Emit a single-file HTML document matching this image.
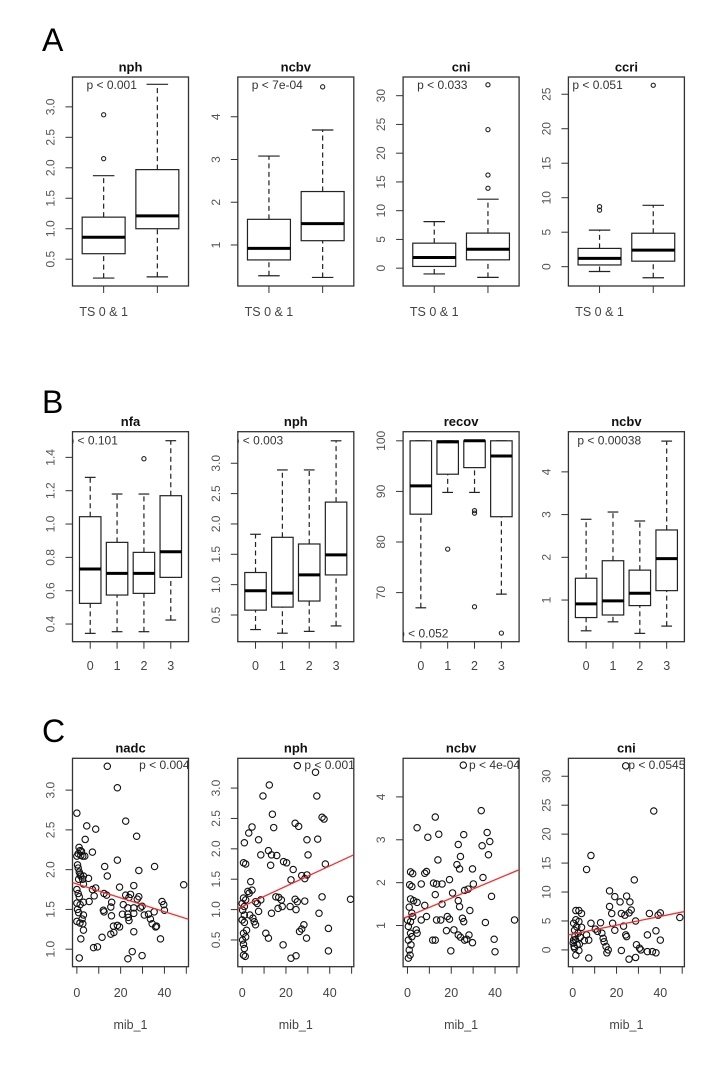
<!DOCTYPE html>
<html><head><meta charset="utf-8">
<style>
html,body{margin:0;padding:0;background:#fff;}
svg{display:block;font-family:"Liberation Sans",Arial,sans-serif;}
</style></head>
<body>
<svg id="fig" width="721" height="1076" viewBox="0 0 721 1076" xmlns="http://www.w3.org/2000/svg">
<rect x="0" y="0" width="721" height="1076" fill="#fff"/>
<text x="42" y="51" font-size="32">A</text>
<text x="42" y="413" font-size="32">B</text>
<text x="42" y="742" font-size="32">C</text>
</svg>
<script>
// ---------- Row A data ----------
const aTitles = ['nph','ncbv','cni','ccri'];
const aPText = ['p < 0.001','p < 7e-04','p < 0.033','p < 0.051'];
const aYlim = [[0.06,3.49],[0.04,4.93],[-3.1,33.25],[-2.8,27.5]];
const aTicks = [[0.5,1,1.5,2,2.5,3],[1,2,3,4],[0,5,10,15,20,25,30],[0,5,10,15,20,25]];
const aTickLabels = [['0.5','1.0','1.5','2.0','2.5','3.0'],['1','2','3','4'],['0','5','10','15','20','25','30'],['0','5','10','15','20','25']];
// [lowWhisker, q1, median, q3, highWhisker]
const aStats = [
  [[0.19,0.59,0.86,1.19,1.87],[0.21,1.0,1.21,1.97,3.37]],
  [[0.28,0.65,0.92,1.6,3.08],[0.24,1.1,1.5,2.25,3.69]],
  [[-1.0,0.3,1.85,4.35,8.1],[-1.6,1.45,3.3,6.1,12]],
  [[-0.7,0.25,1.2,2.65,5.3],[-1.6,0.8,2.4,4.85,8.9]]
];
const aOutliers = [
  [[2.87,2.15],[]],
  [[],[4.7]],
  [[],[13.9,16.2,24.1,31.9]],
  [[8.2,8.7],[26.3]]
];
const aXLabels = ['TS 0 & 1',''];

// ---------- Row B data ----------
const bTitles = ['nfa','nph','recov','ncbv'];
const bPText = ['p < 0.101','p < 0.003','p < 0.052','p < 0.00038'];
const bYlim = [[0.294,1.554],[0.06,3.52],[60.3,101.8],[0.025,4.94]];
const bTicks = [[0.4,0.6,0.8,1.0,1.2,1.4],[0.5,1,1.5,2,2.5,3],[70,80,90,100],[1,2,3,4]];
const bTickLabels = [['0.4','0.6','0.8','1.0','1.2','1.4'],['0.5','1.0','1.5','2.0','2.5','3.0'],['70','80','90','100'],['1','2','3','4']];
const bStats = [
  [[0.344,0.524,0.73,1.044,1.28],[0.354,0.574,0.704,0.89,1.18],[0.354,0.584,0.704,0.83,1.18],[0.424,0.68,0.834,1.17,1.5]],
  [[0.26,0.58,0.9,1.2,1.83],[0.2,0.63,0.86,1.78,2.89],[0.23,0.73,1.16,1.67,2.89],[0.32,1.16,1.49,2.36,3.37]],
  [[67.0,85.5,91.1,100,100],[89.8,93.4,99.8,100,100],[89.8,94.7,100,100,100],[69.7,85,97,100,100]],
  [[0.28,0.59,0.91,1.51,2.89],[0.49,0.65,0.98,1.92,3.06],[0.22,0.87,1.16,1.7,2.85],[0.39,1.22,1.97,2.64,4.72]]
];
const bOutliers = [
  [[],[],[1.392],[]],
  [[],[],[],[]],
  [[],[78.6],[86.2,85.7,67.2],[62]],
  [[],[],[],[]]
];
const bXLabels = ['0','1','2','3'];

// ---------- Row C data ----------
const cTitles = ['nadc','nph','ncbv','cni'];
const cPText = ['p < 0.004','p < 0.001','p < 4e-04','p < 0.0545'];
const cXlim = [-2,51];
const cXTicks = [0,10,20,30,40,50];
const cXTickLabels = ['0','','20','','40',''];
const cYlim = [[0.78,3.4],[0.06,3.49],[0.04,4.9],[-2.9,33.1]];
const cYTicks = [[1,1.5,2,2.5,3],[0.5,1,1.5,2,2.5,3],[1,2,3,4],[0,5,10,15,20,25,30]];
const cYTickLabels = [['1.0','1.5','2.0','2.5','3.0'],['0.5','1.0','1.5','2.0','2.5','3.0'],['1','2','3','4'],['0','5','10','15','20','25','30']];
const cIntercepts = [1.82,1.05,1.21,2.75];
const cSlopes = [-0.0087,0.0167,0.0214,0.076];
const nadcPts = [[13.9,3.30],[18.5,3.03],[0,2.71],[22.3,2.61],[4.5,2.55],[8.6,2.51],[27.3,2.42],[3.8,2.38],
[1,2.28],[1.5,2.24],[2.1,2.23],[0.6,2.2],[1.8,2.18],[0,2.17],[2.7,2.17],[3.6,2.17],[7.1,2.22],[18.5,2.12],
[0.3,2.06],[0.6,2.02],[1.1,1.97],[1.5,1.94],[1.8,1.92],[3,1.92],[0.8,1.88],[2.6,1.88],
[12.7,2.04],[35.5,2.04],[13.9,1.92],[5.3,1.89],[28.3,1.99],[48.8,1.81],[19.5,1.78],[26,1.8],
[7.1,1.75],[8.6,1.77],[3,1.82],[0,1.75],[0.6,1.7],[1.1,1.66],[0,1.58],[1.5,1.56],[0.3,1.5],[0.8,1.46],[0,1.35],[1.4,1.33],
[7.9,1.67],[12.4,1.70],[13.6,1.68],[22.3,1.68],[24.5,1.69],[28.3,1.66],[23.8,1.65],[27.6,1.63],
[5.6,1.6],[3,1.59],[15.9,1.59],[15.5,1.53],[29.8,1.54],[21.2,1.56],[23.3,1.52],[26,1.52],[29,1.52],
[38.9,1.6],[39.7,1.56],[40,1.49],[35.3,1.47],[32.7,1.44],[30.8,1.43],[26,1.45],[23.3,1.44],[20.8,1.44],
[12.1,1.49],[12.4,1.47],[15.8,1.42],[23.5,1.40],[23.8,1.36],[18.5,1.3],[16.7,1.29],[16.9,1.21],[19.5,1.28],[26,1.22],
[33.6,1.38],[34.4,1.32],[36.4,1.29],[36,1.28],[3,1.43],[2.4,1.38],[2.7,1.32],[3,1.24],
[1.8,1.13],[38.2,1.13],[9.4,1.03],[7.6,1.02],[11.5,1.15],[15.5,1.19],[1.1,0.89],[25.3,0.97],[29.8,0.92],[23.3,0.88]];
const nphPts = [[25.2,3.37],[33.5,3.26],[12.4,3.05],[9.5,2.87],[34.1,2.87],[13.8,2.57],[24.2,2.42],[25.8,2.37],[36.5,2.52],[37.4,2.49],
[4.5,2.36],[3.0,2.26],[14.4,2.35],[1.0,2.10],[7.5,2.15],[29.6,2.15],[34.5,2.16],[12.0,1.97],[13.4,1.90],[15.8,1.89],[8.5,1.90],[30.1,1.90],
[0.6,1.77],[1.6,1.75],[18.9,1.79],[20.3,1.77],[13.0,1.73],[23.3,1.66],[38.0,1.75],[3.9,1.46],[22.3,1.49],[27.2,1.56],[28.6,1.51],[29.6,1.57],
[2.6,1.30],[3.2,1.27],[4.5,1.32],[15.4,1.21],[16.7,1.20],[17.9,1.16],[0.6,1.19],[1.6,1.16],[0,1.10],[1.0,1.05],[0.2,0.99],[1.0,0.91],[0,0.83],
[36.5,1.21],[8.5,1.16],[6.1,1.13],[6.9,1.10],[24.2,1.17],[25.2,1.13],[28.6,1.14],[49.5,1.17],[18.3,1.05],[21.9,1.05],[13.4,0.94],[16.4,1.02],
[7.5,0.97],[24.6,1.00],[35.1,0.94],[1.0,0.79],[2.0,0.66],[0.6,0.61],[1.6,0.55],[0.2,0.50],[0.6,0.43],[1.0,0.36],[0.6,0.25],[1.4,0.23],
[10.8,0.61],[12.0,0.53],[5.5,0.80],[4.9,0.86],[3.5,0.91],[26.2,0.64],[27.2,0.68],[28.2,0.75],[29.4,0.53],[39.4,0.69],[6.1,0.75],[18.7,0.42],
[22.3,0.20],[24.6,0.24],[39.4,0.32]];
const ncbvPts = [[25.5,4.74],[33.7,3.68],[12.7,3.53],[4.4,3.28],[25.7,3.12],[14.3,3.13],[9.3,3.06],[36.4,3.17],[37.6,2.96],[34.1,2.86],
[23.2,2.89],[37.0,2.65],[13.9,2.53],[24.2,2.61],[1.4,2.25],[2.4,2.21],[1.0,1.95],[2.0,1.91],[7.9,2.22],[8.7,2.26],[22.6,2.42],[23.8,2.32],
[29.7,2.32],[34.5,2.12],[11.9,1.99],[13.3,1.97],[6.3,1.97],[15.8,1.97],[19.2,2.07],[30.1,1.97],[27.7,1.85],[26.1,1.82],[20.6,1.76],[12.7,1.72],
[23.2,1.58],[15.8,1.50],[7.9,1.47],[4.4,1.54],[1.4,1.62],[2.8,1.58],[38.4,1.68],[8.7,1.21],[6.3,1.13],[13.3,1.13],[15.2,1.13],[28.5,1.35],
[35.6,1.07],[48.9,1.13],[39.6,0.68],[19.8,0.41],[40.0,0.39],[0.8,1.43],[2.0,1.29],[2.4,1.21],[0,1.13],[1.4,1.09],[0.4,0.98],[18.2,1.21],
[19.2,1.15],[25.1,1.17],[25.7,1.09],[23.8,1.44],[4.0,0.90],[4.4,0.82],[17.8,0.88],[21.2,0.90],[11.5,0.66],[12.7,0.66],[23.2,0.78],[24.2,0.73],
[26.1,0.66],[28.1,0.78],[29.7,0.60],[27.1,0.68],[1.4,0.82],[2.0,0.74],[0.4,0.66],[1.6,0.55],[0.8,0.43],[1.2,0.31],[0.4,0.24]];
const cniPts = [[24.2,31.8],[37.0,24.0],[8.3,16.3],[6.3,13.9],[28.1,12.1],[16.8,10.2],[19.2,9.2],[21.6,8.3],[24.6,9.3],[26.1,8.3],
[16.8,7.5],[17.8,6.3],[35,6.3],[39,6.0],[40,6.4],[48.9,5.6],[28.7,5.0],[8.3,4.6],[12.7,4.7],[7.3,-1.4],[22.2,-0.1],[25.7,-1.6],[28.7,-1.3],
[34.1,2.6],[38,3.3],[40,1.7],[22.2,6.3],[23.8,6.0],[26.7,6.9],[25.7,6.4],[18.2,4.6],[19.2,3.4],[23.2,4.1],[24.2,2.6],[24.6,2.3],
[1.4,6.8],[2.8,6.8],[4.0,6.3],[1.4,5.2],[2.8,4.9],[0.4,4.6],[1.8,4.0],[4.0,3.9],[0.8,3.4],[2.4,2.9],[3.4,2.2],[0.4,1.7],[2.0,0.9],
[0.8,0.3],[2.8,-0.1],[1.4,-0.9],[10.3,3.6],[11.3,3.2],[13.3,2.9],[13.9,2.0],[6.3,2.6],[7.3,1.7],[5.3,1.6],[14.3,1.4],[15.2,0.6],
[16.2,0],[15.6,-0.5],[29.1,0.9],[30.5,0.3],[31.1,0],[34.1,-0.3],[36.4,-0.3],[38,-0.5],[0.2,1.2],[1.0,2.4],[0.6,0.6],[3.0,1.0],[1.2,1.8]];
const cPoints = [nadcPts, nphPts, ncbvPts, cniPts];

// ---------- layout ----------
const svg = document.getElementById('fig');
const NS = 'http://www.w3.org/2000/svg';
const LEFTS = [72.5, 237.8, 403.1, 568.4];
const PW = 116;
function mk(tag, attrs, parent){
  const e = document.createElementNS(NS, tag);
  for (const k in attrs) e.setAttribute(k, attrs[k]);
  (parent||svg).appendChild(e);
  return e;
}
function scale(d0,d1,r0,r1){ return v => r0 + (v-d0)/(d1-d0)*(r1-r0); }
let clipId = 0;

function frame(g, left, top, bot, title, titleY){
  const t = mk('text',{x:left+PW/2,y:titleY,'text-anchor':'middle','dominant-baseline':'central','font-size':13,'font-weight':'bold',fill:'#111'},g);
  t.textContent = title;
  
  
  const r = mk('rect',{x:left,y:top,width:PW,height:bot-top,fill:'none',stroke:'#333','stroke-width':1.3},g);
  
  
}
function yAxis(g, left, ys, ticks, labels){
  ticks.forEach((v,i)=>{
    const y = ys(v);
    const tk = mk('line',{x1:left-7,x2:left,y1:y,y2:y,stroke:'#333','stroke-width':1},g);
    
    
    const tl = mk('text',{x:0,y:0,transform:`translate(${left-22},${y}) rotate(-90)`,'text-anchor':'middle','dominant-baseline':'central','font-size':12,fill:'#555'},g);
    tl.textContent = labels[i];
    
    
  });
}
function clipFor(g, left, top, bot){
  const id = 'clip'+(clipId++);
  const cp = mk('clipPath',{id:id},g);
  mk('rect',{x:left,y:top,width:PW,height:bot-top},cp);
  return id;
}
function boxRow(rowName, titles, ptexts, ylims, ticks, tlabels, stats, outl, xlabels, top, bot, titleY, pPos, xlabY){
  titles.forEach((title,pi)=>{
    const left = LEFTS[pi];
    const g = mk('g',{});
    
    
    frame(g,left,top,bot,title,titleY);
    const ys = scale(ylims[pi][0], ylims[pi][1], bot, top);
    yAxis(g,left,ys,ticks[pi],tlabels[pi]);
    const n = stats[pi].length;
    const xs = scale(0.5-0.04*n, n+0.5+0.04*n, left, left+PW);
    const hw = (xs(1.4)-xs(1));
    stats[pi].forEach((s,gi)=>{
      const cx = xs(gi+1);
      const bg = mk('g',{},g);
      
      
      mk('line',{x1:cx,x2:cx,y1:ys(s[0]),y2:ys(s[1]),stroke:'#222','stroke-width':1.2,'stroke-dasharray':'5,3.5'},bg);
      mk('line',{x1:cx,x2:cx,y1:ys(s[3]),y2:ys(s[4]),stroke:'#222','stroke-width':1.2,'stroke-dasharray':'5,3.5'},bg);
      mk('line',{x1:cx-hw/2,x2:cx+hw/2,y1:ys(s[0]),y2:ys(s[0]),stroke:'#222','stroke-width':1.2},bg);
      mk('line',{x1:cx-hw/2,x2:cx+hw/2,y1:ys(s[4]),y2:ys(s[4]),stroke:'#222','stroke-width':1.2},bg);
      mk('rect',{x:cx-hw,y:ys(s[3]),width:2*hw,height:Math.max(0.5,ys(s[1])-ys(s[3])),fill:'#fff',stroke:'#222','stroke-width':1.2},bg);
      mk('line',{x1:cx-hw,x2:cx+hw,y1:ys(s[2]),y2:ys(s[2]),stroke:'#000','stroke-width':3},bg);
      outl[pi][gi].forEach(v=>{
        const c = mk('circle',{cx:cx,cy:ys(v),r:2.1,fill:'none',stroke:'#222','stroke-width':1.1},bg);
        
        
      });
      const xt = mk('line',{x1:cx,x2:cx,y1:bot,y2:bot+7,stroke:'#333','stroke-width':1},g);
      
      
      if (xlabels[gi]) {
        const xl = mk('text',{x:cx,y:xlabY,'text-anchor':'middle','dominant-baseline':'central','font-size':12.5,fill:'#444'},g);
        xl.textContent = xlabels[gi];
        
        
      }
    });
    const id = clipFor(g,left,top,bot);
    const p = pPos[pi];
    const pt = mk('text',{x:left+p[0],y:p[1],'dominant-baseline':'central','font-size':12,fill:'#333','clip-path':`url(#${id})`},g);
    pt.textContent = ptexts[pi];
    
    
  });
}
boxRow('a', aTitles, aPText, aYlim, aTicks, aTickLabels, aStats, aOutliers, aXLabels, 77, 286, 67,
  [[14,85],[14,85],[14,85],[4,85]], 312);
boxRow('b', bTitles, bPText, bYlim, bTicks, bTickLabels, bStats, bOutliers, bXLabels, 431.7, 641.7, 421.7,
  [[-5,440.7],[-5,440.7],[-5,633.3],[9,440.7]], 666);

// scatter row
cTitles.forEach((title,pi)=>{
  const left = LEFTS[pi], top = 758.3, bot = 966.7;
  const g = mk('g',{});
  
  
  frame(g,left,top,bot,title,748);
  const ys = scale(cYlim[pi][0], cYlim[pi][1], bot, top);
  const xs = scale(cXlim[0], cXlim[1], left, left+PW);
  yAxis(g,left,ys,cYTicks[pi],cYTickLabels[pi]);
  cXTicks.forEach((v,i)=>{
    const xt = mk('line',{x1:xs(v),x2:xs(v),y1:bot,y2:bot+7,stroke:'#333','stroke-width':1},g);
    
    
    if (cXTickLabels[i]) {
      const xl = mk('text',{x:xs(v),y:993,'text-anchor':'middle','dominant-baseline':'central','font-size':12.5,fill:'#444'},g);
      xl.textContent = cXTickLabels[i];
      
      
    }
  });
  const xt = mk('text',{x:left+PW/2,y:1025,'text-anchor':'middle','dominant-baseline':'central','font-size':12.5,fill:'#444'},g);
  xt.textContent = 'mib_1';
  
  
  const id = clipFor(g,left,top,bot);
  const pg = mk('g',{'clip-path':`url(#${id})`},g);
  cPoints[pi].forEach(pt=>{
    const c = mk('circle',{cx:xs(pt[0]),cy:ys(pt[1]),r:3.2,fill:'none',stroke:'#111','stroke-width':1.1},pg);
    
    
  });
  const ln = mk('line',{x1:xs(cXlim[0]),y1:ys(cIntercepts[pi]+cSlopes[pi]*cXlim[0]),x2:xs(cXlim[1]),y2:ys(cIntercepts[pi]+cSlopes[pi]*cXlim[1]),stroke:'#ff2a2a','stroke-width':1.3},pg);
  
  
  const ptx = mk('text',{x:left+PW+1,y:765,'text-anchor':'end','dominant-baseline':'central','font-size':12,fill:'#333','clip-path':`url(#${id})`},g);
  ptx.textContent = cPText[pi];
  
  
});
</script>
</body></html>
